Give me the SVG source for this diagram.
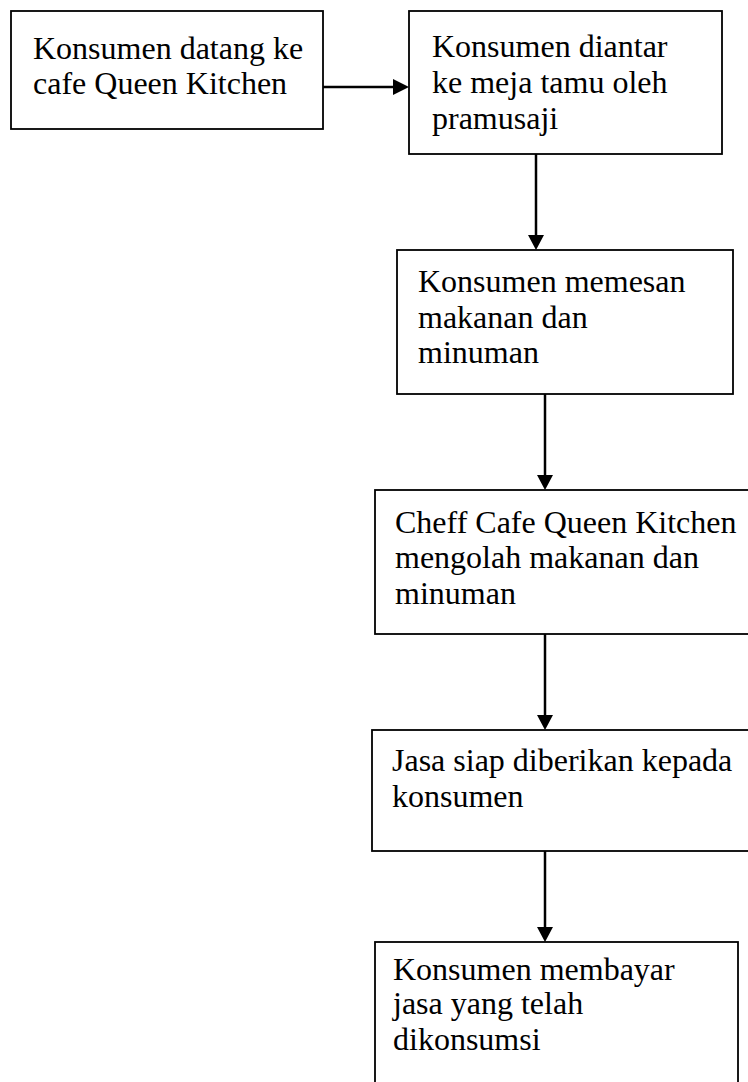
<svg xmlns="http://www.w3.org/2000/svg" width="748" height="1082" viewBox="0 0 748 1082">
<style>
.box{fill:#fff;stroke:#000;stroke-width:1.8}
.t{font-family:"Liberation Serif","Times New Roman",serif;font-size:32px;fill:#000}
.c{stroke:#000;stroke-width:2.5;fill:none}
.h{fill:#000}
</style>
<rect width="748" height="1082" fill="#fff"/>
<g id="connectors">
<path class="c" d="M323,87 L393,87"/><path class="h" d="M393,79 L409,87 L393,95 Z"/>
<path class="c" d="M536,154 L536,235"/><path class="h" d="M528,235 L536,250 L544,235 Z"/>
<path class="c" d="M545,394 L545,475"/><path class="h" d="M537,475 L545,490 L553,475 Z"/>
<path class="c" d="M545,634 L545,715"/><path class="h" d="M537,715 L545,730 L553,715 Z"/>
<path class="c" d="M545,851 L545,927"/><path class="h" d="M537,927 L545,942 L553,927 Z"/>
</g>
<g id="n1">
<rect class="box" x="11" y="11" width="312" height="118"/>
<text class="t" x="33" y="59">Konsumen datang ke</text>
<text class="t" x="33" y="94">cafe Queen Kitchen</text>
</g>
<g id="n2">
<rect class="box" x="409" y="11" width="313" height="143"/>
<text class="t" x="432" y="57">Konsumen diantar</text>
<text class="t" x="432" y="93">ke meja tamu oleh</text>
<text class="t" x="432" y="129">pramusaji</text>
</g>
<g id="n3">
<rect class="box" x="397" y="250" width="336" height="144"/>
<text class="t" x="418" y="292">Konsumen memesan</text>
<text class="t" x="418" y="328">makanan dan</text>
<text class="t" x="418" y="363">minuman</text>
</g>
<g id="n4">
<rect class="box" x="375" y="490" width="380" height="144"/>
<text class="t" x="395" y="533">Cheff Cafe Queen Kitchen</text>
<text class="t" x="395" y="568">mengolah makanan dan</text>
<text class="t" x="395" y="604">minuman</text>
</g>
<g id="n5">
<rect class="box" x="372" y="730" width="383" height="121"/>
<text class="t" x="392" y="771">Jasa siap diberikan kepada</text>
<text class="t" x="392" y="807">konsumen</text>
</g>
<g id="n6">
<rect class="box" x="375" y="942" width="363" height="150"/>
<text class="t" x="393" y="980">Konsumen membayar</text>
<text class="t" x="393" y="1014">jasa yang telah</text>
<text class="t" x="393" y="1050">dikonsumsi</text>
</g>
</svg>
